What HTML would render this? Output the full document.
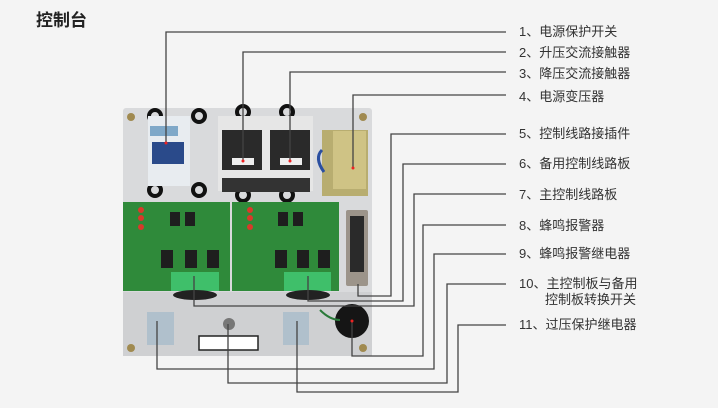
<!DOCTYPE html>
<html><head><meta charset="utf-8"><style>
body{margin:0;width:718px;height:408px;background:#f4f4f4;overflow:hidden;position:relative;font-family:"Liberation Sans","Noto Sans CJK SC",sans-serif}
.t{position:absolute;left:36px;top:6px;font-size:17px;font-weight:bold;color:#222}
.l{position:absolute;left:519px;font-size:13px;color:#333;white-space:nowrap;line-height:16px}
</style></head><body>
<div class="t">控制台</div>
<svg width="718" height="408" style="position:absolute;left:0;top:0">
<!-- panel -->
<rect x="123" y="108" width="249" height="248" rx="3" fill="#d9dadc"/>
<rect x="123" y="292" width="249" height="64" fill="#cfd0d2"/>
<!-- screws -->
<g fill="#a08a50"><circle cx="131" cy="117" r="4"/><circle cx="363" cy="117" r="4"/><circle cx="131" cy="348" r="4"/><circle cx="363" cy="348" r="4"/></g>
<!-- cable loops -->
<g fill="none" stroke="#111" stroke-width="4"><circle cx="155" cy="116" r="6"/><circle cx="199" cy="116" r="6"/><circle cx="155" cy="190" r="6"/><circle cx="199" cy="190" r="6"/><circle cx="243" cy="112" r="6"/><circle cx="287" cy="112" r="6"/><circle cx="243" cy="195" r="6"/><circle cx="287" cy="195" r="6"/></g>
<!-- breaker -->
<rect x="148" y="116" width="42" height="70" fill="#e8ecf0"/>
<rect x="152" y="142" width="32" height="22" fill="#2a4a8a"/>
<rect x="150" y="126" width="28" height="10" fill="#7fa8c8"/>
<!-- contactors -->
<rect x="218" y="116" width="48" height="75" fill="#e6e6e6"/>
<rect x="266" y="116" width="47" height="75" fill="#e6e6e6"/>
<rect x="222" y="130" width="40" height="40" fill="#2a2a2a"/>
<rect x="270" y="130" width="40" height="40" fill="#2a2a2a"/>
<rect x="232" y="158" width="22" height="7" fill="#eee"/>
<rect x="280" y="158" width="22" height="7" fill="#eee"/>
<rect x="222" y="178" width="88" height="14" fill="#333"/>
<!-- transformer -->
<rect x="322" y="130" width="46" height="66" fill="#b8ad70"/>
<rect x="333" y="131" width="33" height="58" fill="#cfc385"/>
<path d="M322 150 q-8 8 2 22" stroke="#2b4fa0" stroke-width="3" fill="none"/>
<!-- terminal strip -->
<rect x="346" y="210" width="22" height="76" rx="2" fill="#9c948a"/>
<rect x="350" y="216" width="14" height="56" fill="#2a2a2a"/>
<!-- boards -->
<rect x="123" y="202" width="107" height="89" fill="#2f8a3a"/>
<rect x="232" y="202" width="107" height="89" fill="#2f8a3a"/>
<g fill="#1e1e1e"><rect x="170" y="212" width="10" height="14"/><rect x="185" y="212" width="10" height="14"/><rect x="161" y="250" width="12" height="18"/><rect x="185" y="250" width="12" height="18"/><rect x="207" y="250" width="12" height="18"/>
<rect x="278" y="212" width="10" height="14"/><rect x="293" y="212" width="10" height="14"/><rect x="275" y="250" width="12" height="18"/><rect x="297" y="250" width="12" height="18"/><rect x="318" y="250" width="12" height="18"/></g>
<g fill="#d83a2a"><circle cx="141" cy="210" r="3"/><circle cx="141" cy="218" r="3"/><circle cx="141" cy="227" r="3"/><circle cx="250" cy="210" r="3"/><circle cx="250" cy="218" r="3"/><circle cx="250" cy="227" r="3"/></g>
<rect x="171" y="272" width="48" height="19" fill="#3fbf6a"/>
<rect x="284" y="272" width="47" height="19" fill="#3fbf6a"/>
<ellipse cx="195" cy="295" rx="22" ry="5" fill="#222"/>
<ellipse cx="308" cy="295" rx="22" ry="5" fill="#222"/>
<!-- relays -->
<rect x="147" y="312" width="27" height="33" fill="#b0c0cc"/>
<rect x="283" y="312" width="26" height="33" fill="#b0c0cc"/>
<!-- switch -->
<circle cx="229" cy="324" r="6" fill="#777"/>
<rect x="199" y="336" width="59" height="14" fill="#fff" stroke="#222" stroke-width="1.5"/>
<!-- buzzer -->
<circle cx="352" cy="321" r="17" fill="#151515"/>
<path d="M320 310 q10 10 20 10" stroke="#2a7a3a" stroke-width="2" fill="none"/>
<!-- leader lines -->
<g fill="none" stroke="#444" stroke-width="1.3">
<polyline points="506,32 166,32 166,143"/>
<polyline points="506,52 243,52 243,161"/>
<polyline points="506,72 290,72 290,161"/>
<polyline points="506,95 353,95 353,168"/>
<polyline points="506,134 391,134 391,296 358,296 358,284"/>
<polyline points="506,164 403,164 403,301 308,301 308,276"/>
<polyline points="506,194 414,194 414,306 194,306 194,276"/>
<polyline points="506,225 423,225 423,356 352,356 352,321"/>
<polyline points="506,254 434,254 434,369 157,369 157,321"/>
<polyline points="506,284 447,284 447,383 228,383 228,324"/>
<polyline points="506,325 458,325 458,392 297,392 297,321"/>
</g>
<g fill="#e22"><circle cx="166" cy="143" r="1.5"/><circle cx="243" cy="161" r="1.5"/><circle cx="290" cy="161" r="1.5"/><circle cx="353" cy="168" r="1.5"/><circle cx="352" cy="321" r="1.5"/></g>
</svg>
<div class="l" style="top:24px">1、电源保护开关</div>
<div class="l" style="top:45px">2、升压交流接触器</div>
<div class="l" style="top:66px">3、降压交流接触器</div>
<div class="l" style="top:89px">4、电源变压器</div>
<div class="l" style="top:126px">5、控制线路接插件</div>
<div class="l" style="top:156px">6、备用控制线路板</div>
<div class="l" style="top:187px">7、主控制线路板</div>
<div class="l" style="top:218px">8、蜂鸣报警器</div>
<div class="l" style="top:246px">9、蜂鸣报警继电器</div>
<div class="l" style="top:276px">10、主控制板与备用</div>
<div class="l" style="top:292px;left:545px">控制板转换开关</div>
<div class="l" style="top:317px">11、过压保护继电器</div>
</body></html>
